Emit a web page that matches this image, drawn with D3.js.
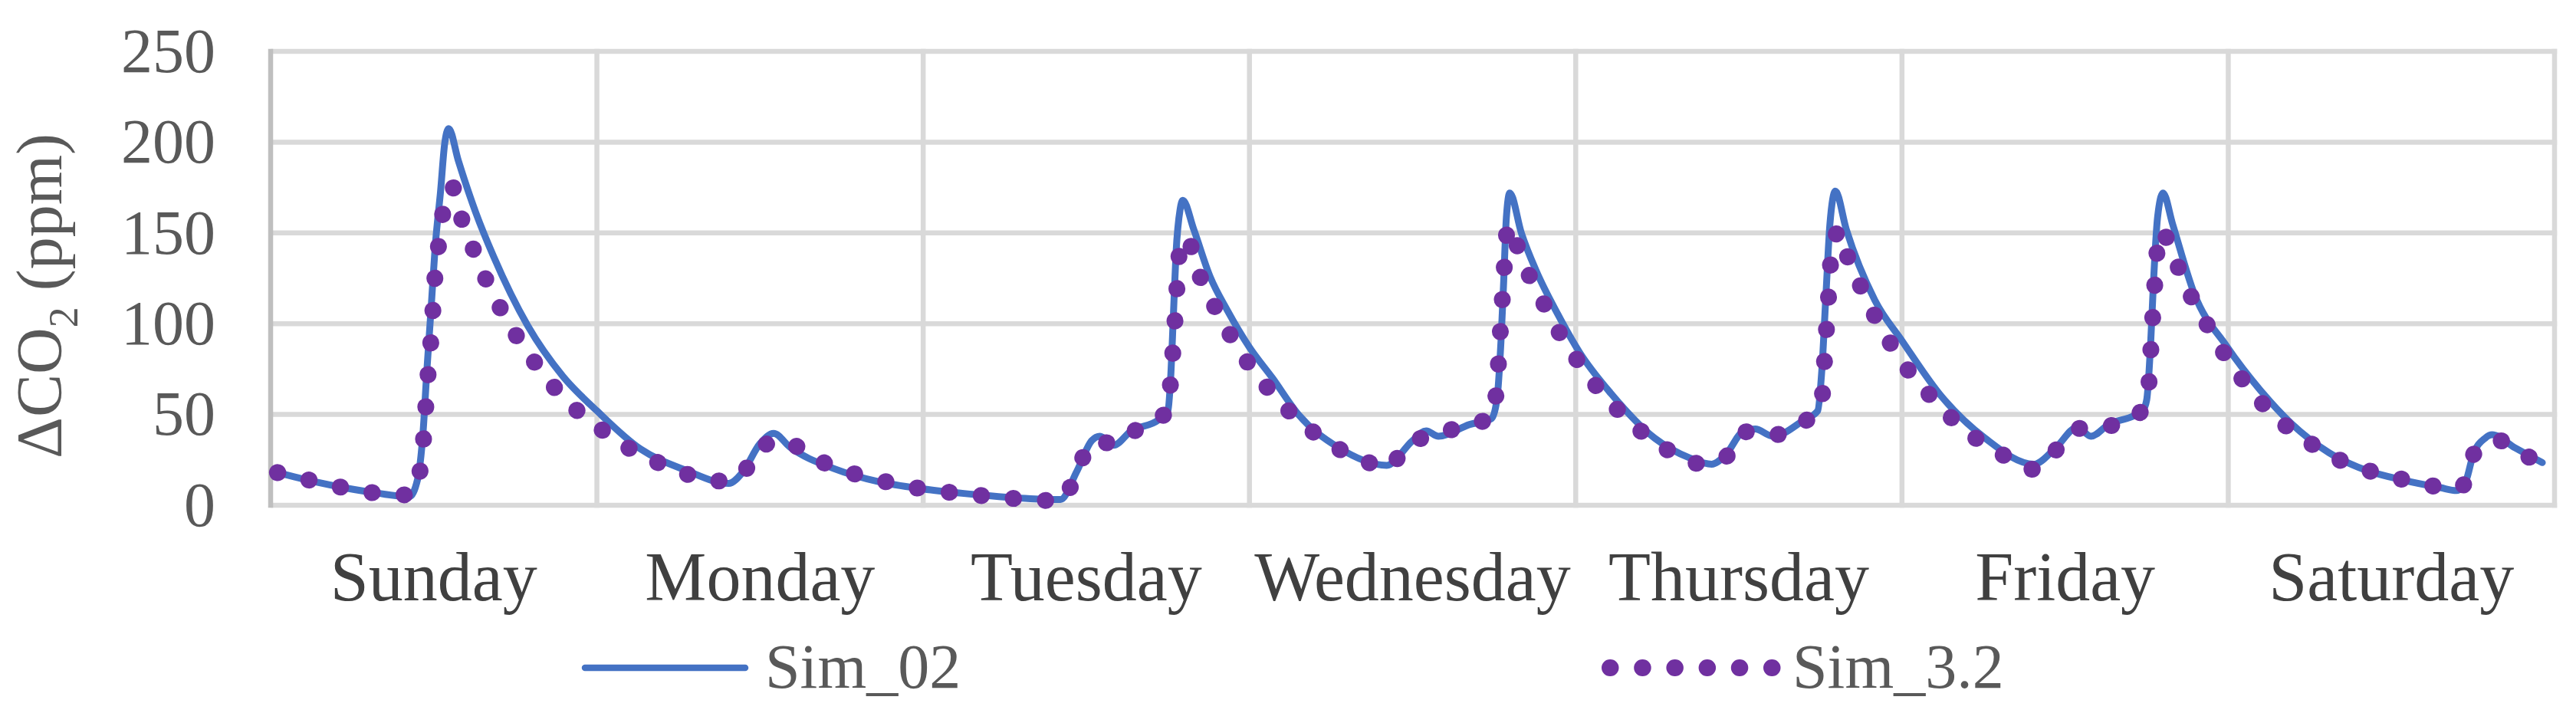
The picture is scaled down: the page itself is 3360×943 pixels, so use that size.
<!DOCTYPE html>
<html lang="en">
<head>
<meta charset="UTF-8">
<title>CO2 week</title>
<script src="https://cdnjs.cloudflare.com/ajax/libs/d3/7.8.5/d3.min.js"></script>
<style>
    body { margin: 0; background: #fff; }
    svg { display: block; font-family: "Liberation Serif", "Times New Roman", serif; }
    .grid line { stroke: #d9d9d9; stroke-width: 6.5; }
</style>
</head>
<body>
<script>
    // categories and ticks
    var days = ["Sunday", "Monday", "Tuesday", "Wednesday", "Thursday", "Friday", "Saturday"];
    var yTicks = [0, 50, 100, 150, 200, 250];

    // Sim_02 : hour of week / delta CO2 (ppm)
    var hours02 = [0, 2.7, 5.1, 7.4, 9.7, 10.3, 10.7, 11, 11.3, 11.6, 12, 12.3, 12.6, 13.3, 14.6, 15.9, 18.4, 21, 23.5,
        26.7, 30, 33.2, 34.2, 35.5, 36.5, 37.7, 41, 44.2, 47.5, 50.5, 55.4, 57.6, 58.8, 59.9, 60.5, 61.5, 62.8, 64.8, 65.5,
        65.7, 65.9, 66.1, 66.4, 66.6, 67.4, 68.6, 69.9, 71.5, 73.2, 75.1, 78, 81.6, 83.5, 84.5, 85.4, 87.7, 89.3, 89.7,
        90, 90.2, 90.4, 90.65, 91.5, 92.6, 94.2, 95.8, 98.1, 101.3, 103.9, 105.5, 106.5, 107.8, 108.7, 110, 112.3, 113.3,
        113.6, 113.9, 114.2, 114.6, 115.4, 117.5, 119.5, 122.4, 125.6, 129.2, 130.8, 132.4, 133.4, 134.7, 136.6, 137.2,
        137.5, 137.8, 138, 138.3, 138.7, 139.4, 141, 143.4, 145.9, 148.1, 150.9, 153.6, 156.4, 159.1, 160.3, 161, 161.5,
        162.4, 162.9, 164.6, 166.6];
    var sim02 = [18, 13, 9.4, 6.6, 4.7, 14, 39, 75, 108, 142, 173, 199, 207.5, 190, 161, 137, 99, 71, 52,
        31, 19.4, 12, 18, 34, 39.6, 32, 20, 13, 9, 6.5, 3.6, 3.2, 18.6, 35.6, 38, 33, 41, 47, 52,
        69.6, 103.6, 139, 163, 168, 152, 126, 107, 87, 70, 50, 32, 22, 35.6, 41, 38, 44.5, 47.7, 58,
        90, 123, 158.6, 172, 150, 129, 105, 84, 61.5, 37, 26, 22.6, 27.5, 40.5, 42, 38, 47, 52,
        74, 115, 155, 173, 152, 113, 90.6, 60, 37, 22.6, 31.6, 43, 38, 44.5, 49.4, 52,
        58, 90.6, 123, 158.6, 172, 155, 116.5, 87.4, 63, 45.3, 29, 19.4, 13.8, 9.7, 8.1, 13.8, 27.5,
        37, 38.8, 31.6, 23.5];

    // Sim_3.2
    var hours32 = [0, 2.74, 5.07, 7.37, 9.7, 10.56, 10.77, 10.93, 11.1, 11.3, 11.45, 11.6, 11.87, 12.17, 12.84, 13.52,
        14.36, 15.27, 16.3, 17.47, 18.8, 20.25, 21.8, 23.7, 25.6, 27.7, 29.8, 32.2, 34.1, 35.4, 37.2, 39.3, 41.4, 43.7,
        45.96, 48.3, 50.6, 52.9, 55.3, 57.6, 58.8, 59.8, 61.8, 63.7, 65.5, 65.72, 66.05, 66.37, 66.9, 67.6, 68.6, 69.7,
        70.9, 72.3, 73.8, 75.5, 77.4, 79.5, 81.7, 83.2, 85.1, 87.2, 89.35, 89.7, 90, 90.3, 90.5, 91.3, 92.2, 93.3, 94.4,
        95.7, 97.1, 98.7, 100.5, 102.4, 104.6, 106.5, 107.9, 110, 112.2, 113.57, 113.9, 114.2, 114.35, 115, 115.6, 116.6,
        117.6, 118.8, 120.1, 121.7, 123.3, 125.1, 127.1, 129.3, 131, 132.6, 134.55, 136.7, 137.6, 137.9, 138.2, 138.4,
        139.2, 140, 141, 142.2, 143.4, 144.8, 146.3, 148.1, 150.1, 152.1, 154.4, 156.6, 158.9, 160.3, 160.9, 161.6,
        163.4, 165.5, 166.6];
    var sim32 = [18, 13.2, 9.4, 6.6, 5.7, 21.3, 38.7, 56, 74, 91.5, 109, 127, 144, 161, 175.5, 158.5,
        142, 125.5, 110, 94.7, 80, 66, 53.8, 42.5, 32.6, 24.5, 18, 13.3, 16.5, 31.5, 35.6, 26.7, 19.7, 14.9,
        11, 8.1, 6.3, 4.5, 3.2, 2.4, 17.8, 33.7, 35, 44.5, 51.8, 69.6, 104.7, 140, 147.6, 131, 114.6, 99,
        83.8, 69.6, 56.6, 44.5, 34, 25.9, 21, 34.3, 38.5, 43.7, 48.5, 66, 101, 137, 154, 141, 124.6, 109, 93.7,
        79, 64.8, 51.8, 39.6, 29.9, 23, 26.4, 40.5, 38.8, 45.3, 57, 92, 127, 145, 151, 134, 118.6,
        102.8, 87.4, 73, 59.4, 47, 36, 27, 19.7, 31.7, 42.4, 43.5, 48.7, 63, 98.4, 133, 151,
        144, 127.5, 111.7, 96.3, 81.2, 66.8, 53.7, 41.6, 31.6, 23.5, 17.8, 13.8, 10.2, 9, 12.1, 28.6,
        35.6, 27, 23];

    var seriesNames = ["Sim_02", "Sim_3.2"];
    var seriesColors = ["#4472c4", "#7030a0"];

    var W = 3360, H = 943;
    var plot = { left: 353, right: 3332, top: 67, bottom: 659 };

    var svg = d3.select("body").append("svg")
        .attr("width", W)
        .attr("height", H);

    var x = d3.scaleLinear().domain([-0.5, 167.5]).range([plot.left, plot.right]);
    var day = d3.scaleBand().domain(days).range([plot.left, plot.right]);
    var y = d3.scaleLinear().domain([0, 250]).range([plot.bottom, plot.top]);

    // gridlines
    var grid = svg.append("g").attr("class", "grid");
    grid.selectAll(".h").data(yTicks).enter().append("line")
        .attr("x1", plot.left).attr("x2", plot.right + 3.25)
        .attr("y1", function(d) { return y(d); })
        .attr("y2", function(d) { return y(d); });
    var edges = days.slice(1).map(function(d) { return day(d); }).concat([plot.right]);
    grid.selectAll(".v").data(edges).enter().append("line")
        .attr("x1", function(d) { return d; }).attr("x2", function(d) { return d; })
        .attr("y1", plot.top - 3.25).attr("y2", plot.bottom + 3.25);
    // left axis line, a bit darker
    svg.append("line")
        .attr("x1", plot.left).attr("x2", plot.left)
        .attr("y1", plot.top - 3.25).attr("y2", plot.bottom + 3.25)
        .attr("stroke", "#bfbfbf").attr("stroke-width", 6.5);

    // y axis labels
    var yAxis = d3.axisLeft(y).tickValues(yTicks).tickSize(0).tickPadding(72);
    var ya = svg.append("g").attr("transform", "translate(" + plot.left + ",0)").call(yAxis);
    ya.select(".domain").remove();
    ya.selectAll("text")
        .attr("font-family", "Liberation Serif, serif")
        .attr("font-size", 82)
        .attr("fill", "#595959");

    // y title
    var yt = svg.append("text")
        .attr("transform", "translate(80,386) rotate(-90)")
        .attr("text-anchor", "middle")
        .attr("font-size", 84)
        .attr("fill", "#595959");
    yt.append("tspan").text("\u0394CO");
    yt.append("tspan").attr("font-size", 54).attr("dy", 21).text("2");
    yt.append("tspan").attr("dy", -21).text(" (ppm)");

    // x labels
    svg.selectAll(".xl").data(days).enter().append("text")
        .attr("x", function(d) { return day(d) + day.bandwidth() / 2; })
        .attr("y", 783)
        .attr("text-anchor", "middle")
        .attr("font-size", 90)
        .attr("fill", "#404040")
        .text(function(d) { return d; });

    // series
    var line = d3.line()
        .x(function(d) { return x(d[0]); })
        .y(function(d) { return y(d[1]); })
        .curve(d3.curveMonotoneX);

    svg.append("path")
        .datum(d3.zip(hours02, sim02))
        .attr("d", line)
        .attr("fill", "none")
        .attr("stroke", seriesColors[0])
        .attr("stroke-width", 9)
        .attr("stroke-linejoin", "round")
        .attr("stroke-linecap", "round");

    svg.append("path")
        .datum(d3.zip(hours32, sim32))
        .attr("d", line)
        .attr("fill", "none")
        .attr("stroke", seriesColors[1])
        .attr("stroke-width", 22)
        .attr("stroke-linecap", "round")
        .attr("stroke-dasharray", "0.5 41.5");

    // legend
    svg.append("line")
        .attr("x1", 763).attr("x2", 972).attr("y1", 871).attr("y2", 871)
        .attr("stroke", seriesColors[0]).attr("stroke-width", 8.5)
        .attr("stroke-linecap", "round");
    svg.append("line")
        .attr("x1", 2100).attr("x2", 2312).attr("y1", 871).attr("y2", 871)
        .attr("stroke", seriesColors[1]).attr("stroke-width", 22)
        .attr("stroke-linecap", "round")
        .attr("stroke-dasharray", "0.5 41.7");
    svg.selectAll(".lg").data(seriesNames).enter().append("text")
        .attr("x", function(d, i) { return i === 0 ? 998 : 2338; })
        .attr("y", 897)
        .attr("font-size", 82)
        .attr("fill", "#595959")
        .text(function(d) { return d; });
</script>
</body>
</html>
